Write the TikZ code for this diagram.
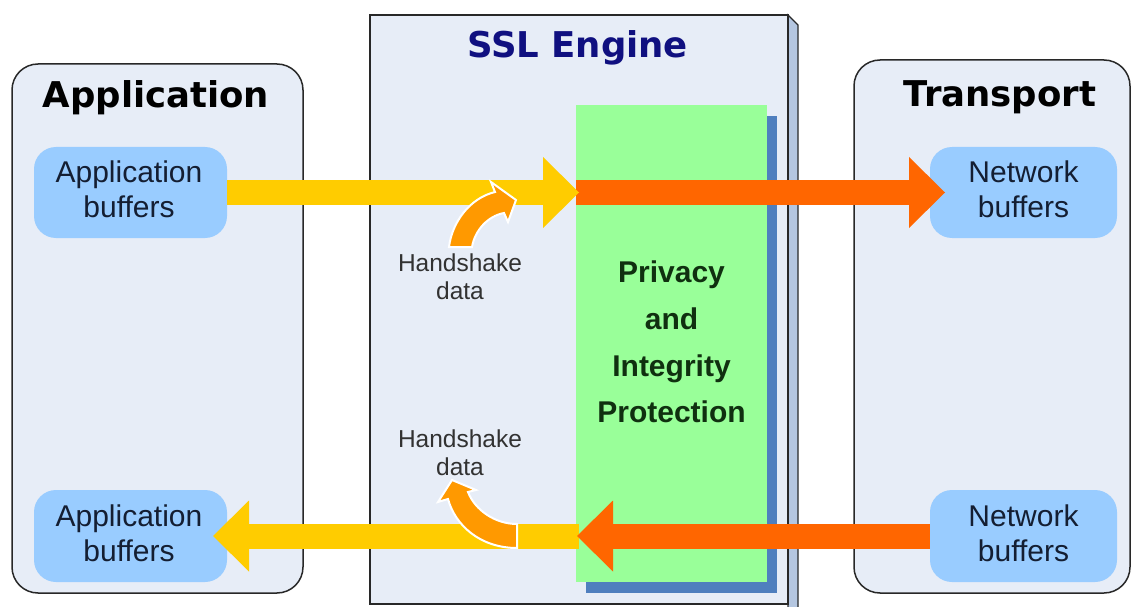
\documentclass[tikz,border=0pt]{standalone}
\usepackage{fontspec}
\setmainfont{Liberation Sans}
\newfontfamily\headfont{DejaVu Sans}
\usetikzlibrary{arrows.meta,calc}
\definecolor{panelfill}{RGB}{231,237,247}
\definecolor{panelline}{RGB}{40,40,40}
\definecolor{buffill}{RGB}{153,204,255}
\definecolor{greenfill}{RGB}{153,255,153}
\definecolor{shadowblue}{RGB}{79,127,190}
\definecolor{sidefill}{RGB}{180,198,224}
\definecolor{yellowA}{RGB}{255,204,0}
\definecolor{orangeA}{RGB}{255,102,0}
\definecolor{hsorange}{RGB}{255,153,0}
\definecolor{navytext}{RGB}{16,16,128}
\definecolor{greentext}{RGB}{16,48,16}
\definecolor{buftext}{RGB}{20,30,50}
\definecolor{graytext}{RGB}{50,50,50}
\begin{document}
\begin{tikzpicture}[x=1pt,y=-1pt,
  panel/.style={draw=panelline, line width=1.5pt, fill=panelfill, rounded corners=26pt, inner sep=0pt},
  sslbox/.style={draw=panelline, line width=1.5pt, fill=panelfill, inner sep=0pt},
  bufbox/.style={fill=buffill, rounded corners=22pt, inner sep=0pt},
  buftxt/.style={text=buftext, inner sep=0pt, align=center, font=\fontsize{30}{35}\selectfont},
  heading/.style={anchor=base, inner sep=0pt, font=\headfont\bfseries\fontsize{35.5}{40}\selectfont},
  hstxt/.style={text=graytext, inner sep=0pt, align=center, font=\fontsize{24.5}{28}\selectfont},
  blockarrow/.style={line width=25pt, -{Triangle[length=36pt,width=71pt,line width=0pt]}},
  hsarrow/.style={fill=hsorange, draw=white, line width=2pt, line join=miter}
]
\useasboundingbox (0,0) rectangle (1136,607);
\fill[white] (0,0) rectangle (1136,607);

% panels
\node[panel, minimum width=291pt, minimum height=529pt] (app) at (157.5,328.5) {};
\node[panel, minimum width=276pt, minimum height=533pt] (trans) at (992,326.5) {};

% SSL engine box with 3D side
\filldraw[fill=sidefill, draw=panelline, line width=1.2pt] (788,15) -- (798,25) -- (798,608) -- (788,608) -- cycle;
\node[sslbox, minimum width=418pt, minimum height=589pt] (ssl) at (579,309.5) {};

% protection block
\fill[shadowblue] (586,116) rectangle (777,593);
\node[fill=greenfill, inner sep=0pt, minimum width=191pt, minimum height=477pt] (prot) at (671.5,343.5) {};
\node[text=greentext, inner sep=0pt, align=center, font=\bfseries\fontsize{30}{46.7}\selectfont] (prottxt) at (671.5,342) {Privacy\\and\\Integrity\\Protection};

% headings
\node[heading] (apptitle) at (156,108) {Application};
\node[heading] (transtitle) at (1000,107) {Transport};
\node[heading, text=navytext] (ssltitle) at (577.5,58) {SSL Engine};

% buffers
\node[bufbox, minimum width=193pt, minimum height=91pt] (app1) at (130.5,192.5) {};
\node[bufbox, minimum width=193pt, minimum height=92pt] (app2) at (130.5,536) {};
\node[bufbox, minimum width=187pt, minimum height=91pt] (net1) at (1023.5,192.5) {};
\node[bufbox, minimum width=187pt, minimum height=92pt] (net2) at (1023.5,536) {};
\node[buftxt] (app1t) at (129,189.5) {Application\\buffers};
\node[buftxt] (app2t) at (129,533) {Application\\buffers};
\node[buftxt] (net1t) at (1023.5,189.5) {Network\\buffers};
\node[buftxt] (net2t) at (1023.5,533) {Network\\buffers};

% main flow arrows
\coordinate (ostart1) at (576,192.5);
\coordinate (otip1) at (945,192.5);
\coordinate (ytip1) at (579,192.5);
\draw[orangeA, blockarrow] (ostart1) -- (otip1);
\draw[yellowA, blockarrow] (app1.east) -- (ytip1);

\coordinate (ystart2) at (579,536);
\coordinate (ytip2) at (213,536);
\coordinate (otip2) at (577,536);
\draw[yellowA, blockarrow] (ystart2) -- (ytip2);
\draw[orangeA, blockarrow] (net2.west) -- (otip2);

% handshake curved arrows
\filldraw[hsarrow] (449,247) .. controls (452,222) and (470,198) .. (495,192) -- (491,182) -- (516,200) -- (508,222) -- (504,213) .. controls (488,216) and (475,230) .. (472,247) -- cycle;
\filldraw[hsarrow] (517,548) .. controls (480,548) and (455,525) .. (448,499) -- (438,502) -- (452,480) -- (476,490) -- (468,492) .. controls (475,510) and (495,524) .. (517,524) -- cycle;

\node[hstxt] (hs1) at (460,277) {Handshake\\data};
\node[hstxt] (hs2) at (460,453) {Handshake\\data};
\end{tikzpicture}
\end{document}
